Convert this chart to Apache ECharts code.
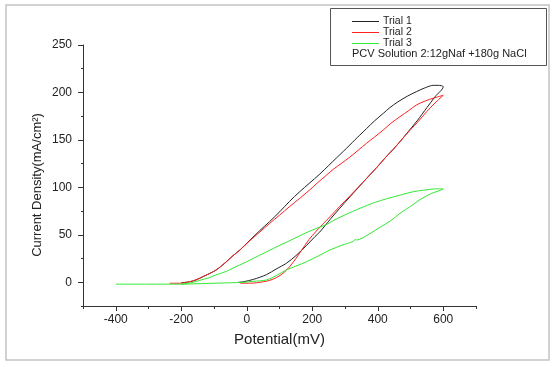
<!DOCTYPE html>
<html>
<head>
<meta charset="utf-8">
<script src="https://cdn.jsdelivr.net/npm/echarts@6/dist/echarts.min.js"></script>
<style>html,body{margin:0;padding:0;background:#fff;}#c{width:556px;height:367px;}</style>
</head>
<body>
<div id="c"></div>
<script>
// Potential (mV) and current density (mA/cm2)
const trial1Potential = [-25,-11,20,60,90,121,150,183,208,223,254,284,315,340,370,397,425,447,470,489,520,550,575,600,
  585,570,545,519,490,459,437,417,390,366,345,330,315,295,274,250,223,190,162,130,101,70,40,10,-21,-42,-62,-93,-115,-134,-155,-174,-200];
const trial1Current = [0,0.5,3,8,14,20,28,39,48,53,66,78,90,99.5,111,121,132,140,149,157,170,184,195.5,206,
  207.5,207.5,205,201,196,189.5,184,178,170,162,155,150,144.7,138,131,123,114,104,95.5,85,74.4,64,54.5,44.5,34,28,21.7,13,9,5.9,2.5,0.6,-0.5];

const trial2Potential = [-20,9,30,50,70,91,111,130,150,170,190,210,230,254,284,315,340,370,397,425,447,470,498,525,550,575,600,
  570,545,519,495,468,440,417,390,366,340,315,290,264,244,215,193,162,130,101,70,40,10,-21,-42,-62,-93,-115,-134,-155,-174,-200,-235];
const trial2Current = [-1,-1,-0.5,0.5,2,5,9.5,16,25,35,45,53,60.5,69,80,91,100,111,121,132,140,149,160,170,180,189,197,
  194,191,187,181,174.5,167.5,160.5,153,146.5,139,132,125.5,119,113,104.5,97.5,88.5,79.5,71,62,53,44,34,28,21.7,13,9,5.9,2.5,0.6,-1,-1];

const trial3Potential = [-400,-300,-200,-150,-100,-50,-11,20,60,90,121,150,183,220,254,290,325,330,335,370,407,440,468,500,529,560,600,
  585,570,540,509,470,427,390,346,300,264,244,200,162,120,101,60,19,-1,-42,-62,-100,-113,-144,-164,-180,-200];
const trial3Current = [-2,-2,-2,-1.5,-1,-0.5,0,1,2.4,7,13,17,21.7,28,34,39,43,45,44.5,50,58,65,72.7,80,87,93,98.3,
  98.5,98.3,97,95.5,92,88,84,78,71,65,61,55,49,42,39,32,25,21.5,15,11.5,7,5,2,0,-1,-2];

const xTickLabels = [-400,-200,0,200,400,600];
const yTickLabels = [0,50,100,150,200,250];

const seriesNames = ['Trial 1','Trial 2','Trial 3'];
const seriesColors = ['#222222','#ff2020','#33e833'];
const noteText = 'PCV Solution 2:12gNaf +180g NaCl';

function zip(a,b){return a.map((v,i)=>[v,b[i]]);}

const FONT = 'Liberation Sans, Arial, sans-serif';
const axisColor = '#333';

const chart = echarts.init(document.getElementById('c'), null, {renderer:'canvas'});
const legendY = [21, 32, 43];
const graphics = [
  {type:'rect', shape:{x:6, y:5, width:543, height:355}, style:{fill:'none', stroke:'#c4c4c4', lineWidth:1.5}, silent:true},
  {type:'rect', shape:{x:330.5, y:8.5, width:216, height:57}, style:{fill:'#fff', stroke:'#555', lineWidth:1}, silent:true},
  {type:'text', x:37, y:185, rotation:Math.PI/2, style:{text:'Current Density(mA/cm²)', font:'13px ' + FONT, fill:'#222', textAlign:'center', textVerticalAlign:'middle'}}
];
seriesNames.forEach((n,i)=>{
  graphics.push({type:'line', shape:{x1:352, y1:legendY[i]+0.5, x2:379, y2:legendY[i]+0.5}, style:{stroke:seriesColors[i], lineWidth:1}});
  graphics.push({type:'text', x:383, y:legendY[i], style:{text:n, font:'10.5px ' + FONT, fill:'#222', textVerticalAlign:'middle'}});
});
graphics.push({type:'text', x:352, y:54, style:{text:noteText, font:'11px ' + FONT, fill:'#222', textVerticalAlign:'middle'}});

const series = [
  zip(trial1Potential, trial1Current),
  zip(trial2Potential, trial2Current),
  zip(trial3Potential, trial3Current)
].map((d,i)=>({
  name: seriesNames[i], type:'line', data:d, xAxisIndex:0, yAxisIndex:0,
  showSymbol:false, symbol:'none', smooth:0.3,
  lineStyle:{color:seriesColors[i], width:1}, itemStyle:{color:seriesColors[i]},
  animation:false
}));

chart.setOption({
  animation:false,
  backgroundColor:'#fff',
  grid:{left:83, right:80, top:45, bottom:61, containLabel:false},
  xAxis:[{
    type:'value', min:-500, max:700, interval:100,
    name:'Potential(mV)', nameLocation:'middle', nameGap:26,
    nameTextStyle:{fontFamily:FONT, fontSize:15, color:'#222'},
    axisLine:{show:true, onZero:false, lineStyle:{color:axisColor, width:1}},
    axisTick:{show:true, length:5, customValues:xTickLabels, lineStyle:{color:axisColor}},
    axisLabel:{customValues:xTickLabels, fontFamily:FONT, fontSize:12, color:'#222', margin:8},
    splitLine:{show:false}
  },{
    type:'value', min:-500, max:700, interval:100, position:'bottom',
    axisLine:{show:false, onZero:false}, axisLabel:{show:false}, splitLine:{show:false},
    axisTick:{show:true, length:3, lineStyle:{color:axisColor}}
  }],
  yAxis:[{
    type:'value', min:-25, max:250, interval:25,
    axisLine:{show:true, onZero:false, lineStyle:{color:axisColor, width:1}},
    axisTick:{show:true, length:5, customValues:yTickLabels, lineStyle:{color:axisColor}},
    axisLabel:{customValues:yTickLabels, fontFamily:FONT, fontSize:12, color:'#222', margin:11},
    splitLine:{show:false}
  },{
    type:'value', min:-25, max:250, interval:25, position:'left',
    axisLine:{show:false, onZero:false}, axisLabel:{show:false}, splitLine:{show:false},
    axisTick:{show:true, length:2, lineStyle:{color:axisColor}}
  }],
  series: series,
  graphic: graphics
});
</script>
</body>
</html>
